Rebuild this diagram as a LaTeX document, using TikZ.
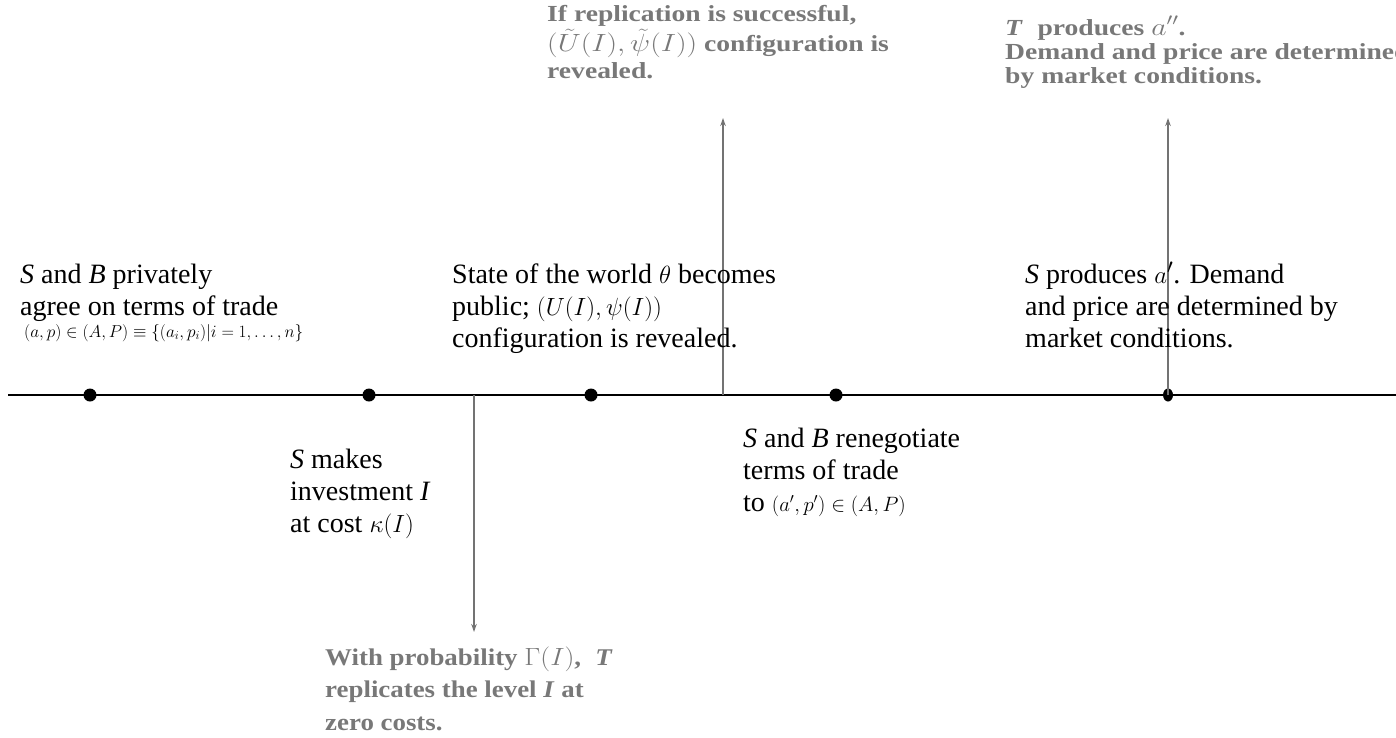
\documentclass[tikz,border=0pt]{standalone}
\usepackage{graphicx}
\usepackage{fontspec}
\setmainfont{Liberation Serif}
\usetikzlibrary{arrows.meta,shapes.geometric}
\definecolor{greytxt}{RGB}{120,120,120}
\newcommand{\gstretch}[1]{\scalebox{1.2}[1]{\begin{tabular}[t]{@{}l@{}}#1\end{tabular}}}
\begin{document}
\begin{tikzpicture}[x=1pt,y=-1pt,
  txt/.style={anchor=base west,inner sep=0pt,font=\fontsize{28}{32}\selectfont},
  gtxt/.style={anchor=base west,inner sep=0pt,text=greytxt,font=\fontsize{23}{27}\selectfont\bfseries},
  evt/.style={circle,fill=black,inner sep=0pt,minimum size=13pt},
  gline/.style={draw=black!55,line width=1.3pt,-{Stealth[length=8pt,width=5.5pt]}}]
\useasboundingbox (0,0) rectangle (1396,737);
\coordinate (L) at (8,395);
\coordinate (R) at (1396,395);
\draw[line width=2.8pt] (L) -- (R);
\node[evt] (d1) at (90,395) {};
\node[evt] (d2) at (369,395) {};
\node[evt] (d3) at (591,395) {};
\node[evt] (d4) at (836,395) {};
\node[ellipse,fill=black,inner sep=0pt,minimum width=10pt,minimum height=13pt] (d5) at (1168,395) {};
\coordinate (a1s) at (723,395); \coordinate (a1e) at (723,118);
\coordinate (a2s) at (1168,395); \coordinate (a2e) at (1168,118);
\coordinate (a3s) at (474,395); \coordinate (a3e) at (474,632);
\draw[gline] (a1s) -- (a1e);
\draw[gline] (a2s) -- (a2e);
\draw[gline] (a3s) -- (a3e);
\node[txt] (t1) at (20,283) {\begin{tabular}[t]{@{}l@{}}\textit{S} and \textit{B} privately\\agree on terms of trade\\[-10pt]
  \hspace*{4pt}{\fontsize{18}{20}\selectfont $(a,p)\in(A,P)\equiv\{(a_i,p_i)|i=1,\ldots,n\}$}\end{tabular}};
\node[txt] (t2) at (452,283) {\begin{tabular}[t]{@{}l@{}}State of the world $\theta$ becomes\\public; $(U(I),\psi(I))$\\configuration is revealed.\end{tabular}};
\node[txt] (t3) at (1025,283) {\begin{tabular}[t]{@{}l@{}}\textit{S} produces $a'$. Demand\\and price are determined by\\market conditions.\end{tabular}};
\node[txt] (t4) at (290,468) {\begin{tabular}[t]{@{}l@{}}\textit{S} makes\\investment \textit{I}\\at cost $\kappa(I)$\end{tabular}};
\node[txt] (t5) at (743,447) {\begin{tabular}[t]{@{}l@{}}\textit{S} and \textit{B} renegotiate\\terms of trade\\to {\fontsize{20}{22}\selectfont $(a',p')\in(A,P)$}\end{tabular}};
\node[gtxt] (t6) at (547,21) {\gstretch{If replication is successful,\\$(\tilde U(I),\tilde\psi(I))$ configuration is\\revealed.}};
\node[gtxt,font=\fontsize{23}{24}\selectfont\bfseries] (t7) at (1005,35) {\gstretch{\textit{T}\; produces $a''$.\\Demand and price are determined\\by market conditions.}};
\node[gtxt,font=\fontsize{24}{32.5}\selectfont\bfseries] (t8) at (325,665) {\scalebox{1.12}[1]{\begin{tabular}[t]{@{}l@{}}With probability $\Gamma(I)$,\; \textit{T}\\replicates the level \textit{I} at\\zero costs.\end{tabular}}};
\end{tikzpicture}
\end{document}
